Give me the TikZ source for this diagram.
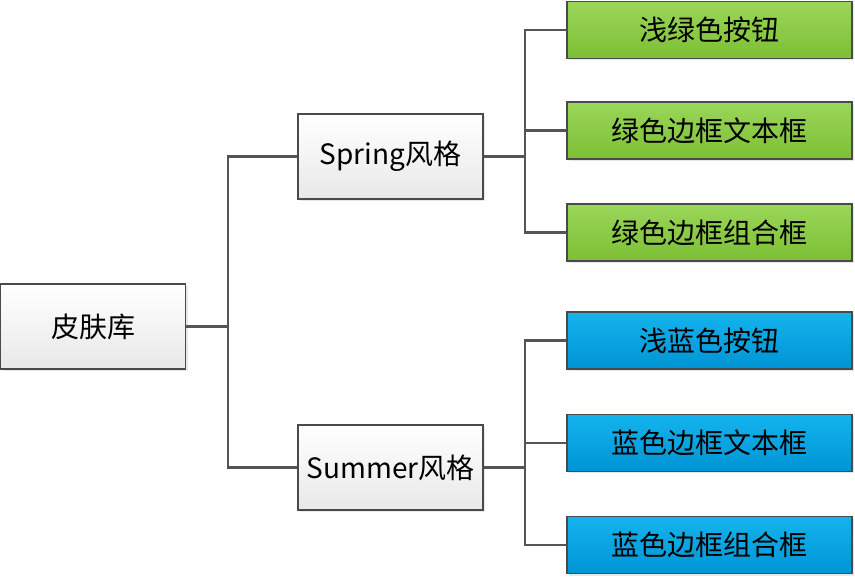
\documentclass[tikz,border=0pt]{standalone}
\usepackage{fontspec}
\setmainfont{Noto Sans CJK SC}
\usetikzlibrary{shadows}
\definecolor{gtop}{HTML}{9BD65A}
\definecolor{gbot}{HTML}{7CBF34}
\definecolor{btop}{HTML}{14B4EE}
\definecolor{bbot}{HTML}{0094D4}
\definecolor{linec}{HTML}{555555}
\definecolor{boxb}{HTML}{4A4A4A}
\begin{document}
\begin{tikzpicture}[x=1pt,y=-1pt,
  basebox/.style={draw=boxb, line width=1.2pt, inner sep=0pt, font=\fontsize{28}{30}\selectfont,
    drop shadow={opacity=0.18, shadow xshift=2pt, shadow yshift=-2pt}},
  graybox/.style={basebox, minimum width=185pt, minimum height=85pt, top color=white, bottom color=black!9},
  greenbox/.style={basebox, minimum width=285pt, minimum height=57pt, top color=gtop, bottom color=gbot},
  bluebox/.style={basebox, minimum width=285pt, minimum height=57pt, top color=btop, bottom color=bbot},
  conn/.style={draw=linec, line width=2.2pt}]
\useasboundingbox (0,0) rectangle (855,577);
\node[graybox] (root) at (93,326.5) {皮肤库};
\node[graybox] (spring) at (390.5,156.5) {Spring风格};
\node[graybox] (summer) at (390.5,467.5) {Summer风格};
\node[greenbox] (g1) at (709.5,30) {浅绿色按钮};
\node[greenbox] (g2) at (709.5,130.5) {绿色边框文本框};
\node[greenbox] (g3) at (709.5,232.5) {绿色边框组合框};
\node[bluebox] (b1) at (709.5,340.5) {浅蓝色按钮};
\node[bluebox] (b2) at (709.5,443) {蓝色边框文本框};
\node[bluebox] (b3) at (709.5,545) {蓝色边框组合框};
\coordinate (j1) at (228,326.5);
\coordinate (j2) at (525,156.5);
\coordinate (j3) at (525,467.5);
\draw[conn] (root.east) -- (j1) |- (spring.west);
\draw[conn] (j1) |- (summer.west);
\draw[conn] (spring.east) -- (j2);
\draw[conn] (j2) |- (g1.west);
\draw[conn] (j2) |- (g2.west);
\draw[conn] (j2) |- (g3.west);
\draw[conn] (summer.east) -- (j3);
\draw[conn] (j3) |- (b1.west);
\draw[conn] (j3) |- (b2.west);
\draw[conn] (j3) |- (b3.west);
\end{tikzpicture}
\end{document}
